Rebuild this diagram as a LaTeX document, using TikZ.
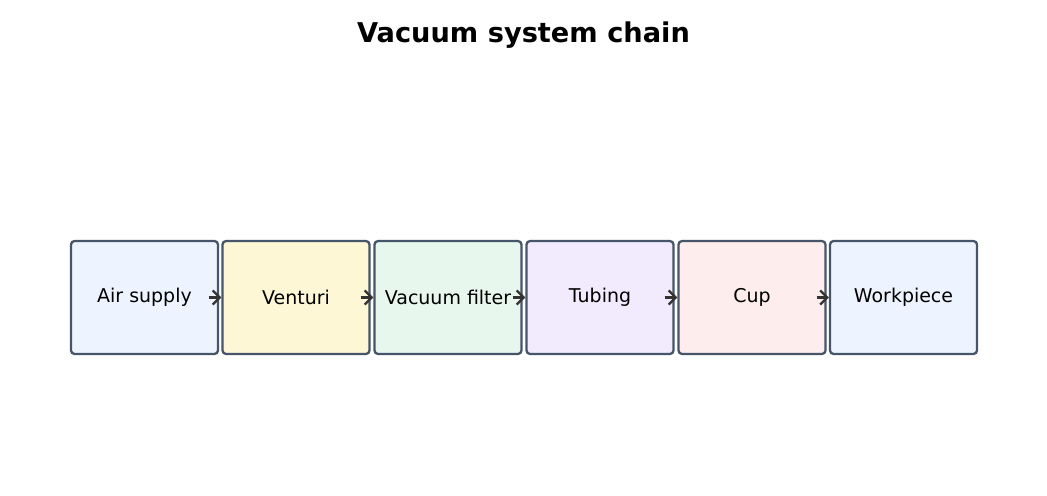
\documentclass[tikz,border=0pt]{standalone}
\usepackage{fontspec}
\setmainfont{DejaVu Sans}
\usetikzlibrary{positioning,arrows.meta}

\definecolor{edgecol}{HTML}{465569}
\definecolor{arrowcol}{HTML}{333333}
\definecolor{fillA}{HTML}{EEF4FF}
\definecolor{fillB}{HTML}{FEF7D6}
\definecolor{fillC}{HTML}{E8F7EE}
\definecolor{fillD}{HTML}{F2EBFE}
\definecolor{fillE}{HTML}{FEEDED}

\begin{document}
\begin{tikzpicture}[x=0.02cm,y=-0.02cm]
		\tikzstyle{Stage}	= [rectangle, rounded corners=2pt, draw=edgecol, line width=1.3pt, minimum width=2.94cm, minimum height=2.26cm, inner sep=0pt, font=\fontsize{10.8}{13}\selectfont]
		\tikzstyle{Link}	= [-{Straight Barb[length=4pt,width=8pt,line width=1.3pt]}, arrowcol, line width=1.3pt]

		\useasboundingbox (0,0) rectangle (1047,496);
		\node (title) at (523.5,35) {\fontsize{15.5}{18}\selectfont\bfseries Vacuum system chain};

		\node (air) at (144.5,297.5) [Stage, fill=fillA] {Air supply};
		\node (ven) at (296,297.5) [Stage, fill=fillB] {Venturi};
		\node (fil) at (448,297.5) [Stage, fill=fillC] {Vacuum filter};
		\node (tub) at (600,297.5) [Stage, fill=fillD] {Tubing};
		\node (cup) at (752,297.5) [Stage, fill=fillE] {Cup};
		\node (wrk) at (903.5,297.5) [Stage, fill=fillA] {Workpiece};

		\draw [Link] ([xshift=-0.2cm]air.east) to (ven.west);
		\draw [Link] ([xshift=-0.2cm]ven.east) to (fil.west);
		\draw [Link] ([xshift=-0.2cm]fil.east) to (tub.west);
		\draw [Link] ([xshift=-0.2cm]tub.east) to (cup.west);
		\draw [Link] ([xshift=-0.2cm]cup.east) to (wrk.west);
	\end{tikzpicture}
\end{document}
